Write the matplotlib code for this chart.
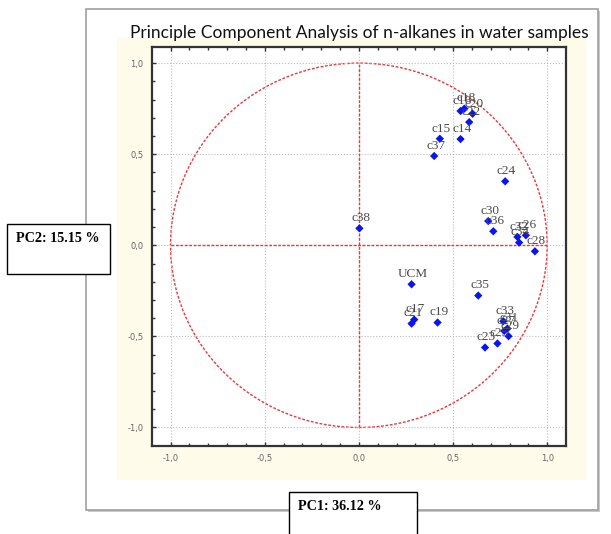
import numpy as np
import matplotlib
matplotlib.use("Agg")
import matplotlib.pyplot as plt
from matplotlib.patches import Rectangle, Circle

# loadings (PC1, PC2)
labels = ["c14", "c15", "c16", "c17", "c18", "c19", "c20", "c21", "c22", "c23",
          "c24", "c25", "c26", "c27", "c28", "c29", "c30", "c31", "c32", "c33",
          "c34", "c35", "c36", "c37", "c38", "UCM"]
pc1 = [0.54, 0.43, 0.54, 0.294, 0.56, 0.418, 0.604, 0.28, 0.586, 0.67,
       0.777, 0.736, 0.887, 0.772, 0.935, 0.795, 0.687, 0.789, 0.842, 0.767,
       0.851, 0.634, 0.714, 0.40, 0.003, 0.28]
pc2 = [0.583, 0.585, 0.737, -0.408, 0.75, -0.424, 0.722, -0.43, 0.676, -0.561,
       0.351, -0.539, 0.055, -0.47, -0.033, -0.499, 0.133, -0.457, 0.046, -0.417,
       0.015, -0.276, 0.077, 0.49, 0.093, -0.214]
major_ticks = [-1.0, -0.5, 0.0, 0.5, 1.0]
tick_text = ["-1,0", "-0,5", "0,0", "0,5", "1,0"]

W, H = 611, 534
fig = plt.figure(figsize=(W / 100, H / 100), dpi=100)

# background decoration in pixel coordinates
bg = fig.add_axes([0, 0, 1, 1])
bg.set_xlim(0, W); bg.set_ylim(H, 0); bg.axis("off")
bg.add_patch(Rectangle((88, 11), 512, 501, fc="#c8c8c8", ec="none"))
bg.add_patch(Rectangle((86, 9), 512, 501, fc="white", ec="#a0a0a0", lw=1.2))
bg.add_patch(Rectangle((117, 38), 469, 442, fc="#fefbea", ec="none"))
bg.add_patch(Rectangle((7, 224), 103, 50, fc="white", ec="black", lw=1))
bg.text(16, 239, "PC2: 15.15 %", family="Liberation Serif", weight="bold",
        fontsize=10.2, va="center", ha="left")
bg.add_patch(Rectangle((289, 492), 128, 50, fc="white", ec="black", lw=1))
bg.text(298, 507, "PC1: 36.12 %", family="Liberation Serif", weight="bold",
        fontsize=10.2, va="center", ha="left")
bg.text(359, 33, "Principle Component Analysis of n-alkanes in water samples",
        family="Lato", fontsize=12.5, ha="center", va="center", color="#111")

ax = fig.add_axes([151.7 / W, 1 - 445.7 / H, 414.3 / W, 399 / H])
ax.set_xlim(-1.1, 1.1)
ax.set_ylim(-1.1, 1.09)
ax.set_facecolor("white")

red = "#e8383c"
ax.add_patch(Circle((0, 0), 1.0, fill=False, ec=red, lw=1.0,
                    ls=(0, (2, 1.2))))
ax.plot([-1, 1], [0, 0], color=red, lw=1.0, ls=(0, (2, 1.2)))
ax.plot([0, 0], [-1, 1], color=red, lw=1.0, ls=(0, (2, 1.2)))

ax.scatter(pc1, pc2, marker="D", s=18, color="#0a14f0", zorder=4,
           edgecolors="none")
for lab, x, y in zip(labels, pc1, pc2):
    ax.annotate(lab, (x, y), xytext=(1, 3), textcoords="offset points",
                ha="center", va="bottom", family="Liberation Serif",
                fontsize=9.5, color="#4a4a4a", zorder=5)

ax.set_xticks(major_ticks)
ax.set_xticklabels(tick_text)
ax.set_yticks(major_ticks)
ax.set_yticklabels(tick_text)
ax.set_xticks(np.arange(-1.0, 1.05, 0.1), minor=True)
ax.set_yticks(np.arange(-1.0, 1.05, 0.1), minor=True)
ax.tick_params(which="both", direction="in", top=True, right=False,
               color="#333", labelsize=6, labelcolor="#666")
ax.tick_params(which="major", length=3, width=1, pad=6)
ax.tick_params(which="minor", length=2, width=1)
ax.grid(which="major", color="#bbbbbb", ls=":", lw=0.8)
for s in ax.spines.values():
    s.set_color("#333")
    s.set_linewidth(1.6)

fig.savefig("out.png", dpi=100)
